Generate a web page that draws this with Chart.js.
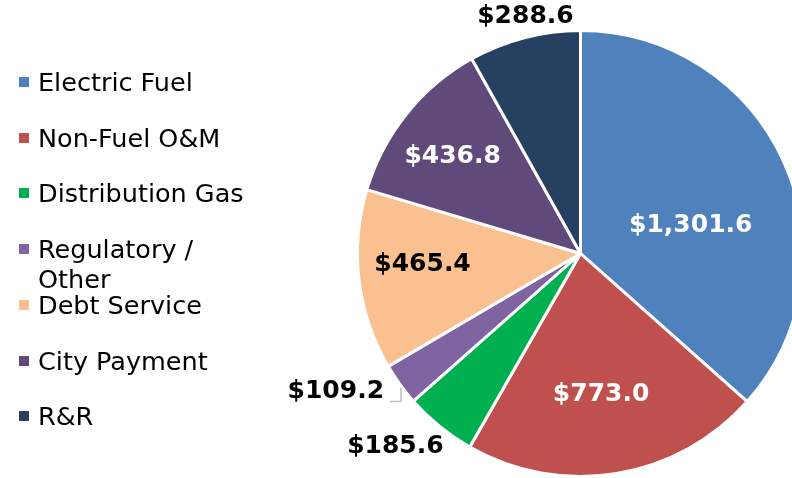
<!DOCTYPE html>
<html>
<head>
<meta charset="utf-8">
<script src="https://cdn.jsdelivr.net/npm/chart.js@4/dist/chart.umd.min.js"></script>
<style>
  body { margin: 0; width: 792px; height: 478px; overflow: hidden; background: #fff; position: relative; font-family: "DejaVu Sans", Verdana, sans-serif; }
  #chart { position: absolute; left: 0; top: 0; }
  .item { position: absolute; left: 19px; width: 250px; font-size: 25.5px; line-height: 30px; color: #000; }
  .item .box { position: absolute; left: 0; top: 10px; width: 10px; height: 10px; }
  .item .txt { position: absolute; left: 19px; top: 0; width: 220px; }
</style>
</head>
<body>
<canvas id="chart" width="830" height="478"></canvas>
<div id="legend"></div>
<script>
let labels = ['Electric Fuel', 'Non-Fuel O&M', 'Distribution Gas', 'Regulatory / Other', 'Debt Service', 'City Payment', 'R&R'];
let values = [1301.6, 773.0, 185.6, 109.2, 465.4, 436.8, 288.6];
let colors = ['#4F81BD', '#C0504D', '#00B050', '#8064A2', '#FAC090', '#604A7B', '#254061'];
let labelColors = ['#fff', '#fff', '#000', '#000', '#000', '#fff', '#000'];
// [radius factor, angle shift in degrees] for each value label
let labelPos = [[0.51, 10], [0.64, 1], [1.2, 4.6], [1.26, 6.5], [0.71, 3], [0.72, -1.5], [1.09, 1.5]];

function money(v) {
    return '$' + v.toLocaleString('en-US', {minimumFractionDigits: 1, maximumFractionDigits: 1});
}

// legend
let legend = document.getElementById('legend');
labels.forEach((l, i) => {
    let d = document.createElement('div');
    d.className = 'item';
    d.style.top = (82 + i * 55.7 - 15) + 'px';
    d.innerHTML = '<div class="box" style="background:' + colors[i] + '"></div><div class="txt"></div>';
    d.querySelector('.txt').textContent = l;
    legend.appendChild(d);
});

let valueLabels = {
    id: 'valueLabels',
    afterDatasetsDraw(chart) {
        let ctx = chart.ctx;
        let arcs = chart.getDatasetMeta(0).data;
        ctx.save();
        ctx.font = 'bold 25px "DejaVu Sans"';
        ctx.textAlign = 'center';
        ctx.textBaseline = 'middle';
        arcs.forEach((arc, i) => {
            let p = labelPos[i];
            let a = (arc.startAngle + arc.endAngle) / 2 + p[1] * Math.PI / 180;
            let r = arc.outerRadius * p[0];
            let x = arc.x + Math.cos(a) * r;
            let y = arc.y + Math.sin(a) * r;
            ctx.fillStyle = labelColors[i];
            let t = money(values[i]);
            ctx.fillText(t, x, y);
            if (i == 3) {
                // small leader line
                let w = ctx.measureText(t).width;
                ctx.strokeStyle = '#bfbfbf';
                ctx.lineWidth = 1.5;
                ctx.beginPath();
                ctx.moveTo(x + w / 2 + 6, y + 10);
                ctx.lineTo(x + w / 2 + 17, y + 10);
                ctx.lineTo(x + w / 2 + 17, y - 4);
                ctx.stroke();
            }
        });
        ctx.restore();
    }
};

let pieChart = new Chart(document.getElementById('chart').getContext('2d'), {
    type: 'pie',
    data: {
        labels: labels,
        datasets: [{
            data: values,
            backgroundColor: colors,
            borderColor: '#fff',
            borderWidth: 3
        }]
    },
    options: {
        responsive: false,
        animation: false,
        layout: {
            padding: {left: 356, right: 25, top: 29, bottom: 0}
        },
        plugins: {
            legend: {display: false},
            tooltip: {enabled: false}
        }
    },
    plugins: [valueLabels]
});
</script>
</body>
</html>
